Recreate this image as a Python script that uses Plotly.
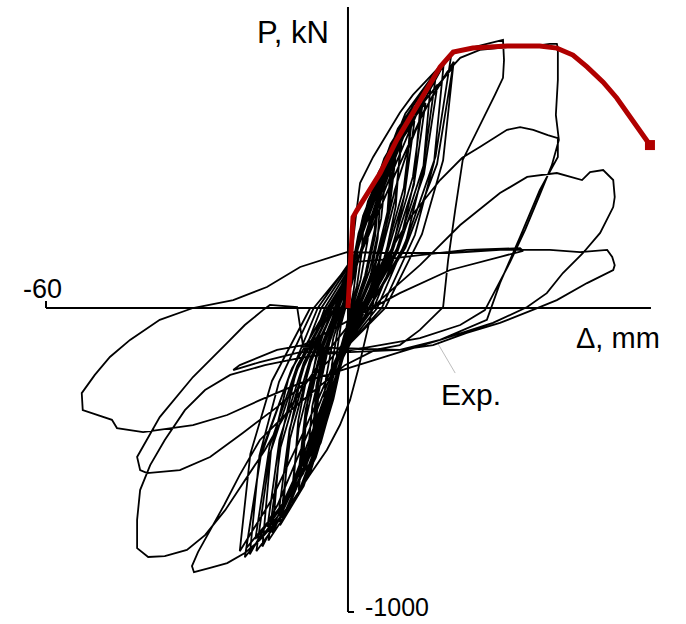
import plotly.graph_objects as go

# ---- measured load-displacement record (displacement in mm, load in kN) ----
# small and medium cycles around the origin
cycle_01 = [(0, 0), (0.1, 44), (0.6, 110), (1.3, 180), (2.0, 220), (1.7, 132), (1.1, 55), (0.4, 0),
            (-0.1, -44), (-0.8, -110), (-1.6, -180), (-2.5, -220), (-2.1, -132), (-1.4, -55), (-0.5, 0)]
cycle_02 = [(0.2, 60), (1.0, 150), (2.1, 246), (3.2, 300), (2.7, 180), (1.8, 75), (0.6, 0),
            (-0.2, -62), (-1.1, -155), (-2.5, -254), (-3.8, -310), (-3.2, -186), (-2.1, -78), (-0.8, 0)]
cycle_03 = [(0.2, 74), (1.4, 185), (3.0, 303), (4.6, 370), (3.9, 222), (2.5, 93), (0.9, 0),
            (-0.3, -78), (-1.6, -195), (-3.4, -320), (-5.2, -390), (-4.4, -234), (-2.9, -98), (-1.0, 0)]
cycle_04 = [(0.3, 86), (1.9, 215), (4.0, 353), (6.2, 430), (5.3, 258), (3.4, 108), (1.2, 0),
            (-0.3, -92), (-2.0, -230), (-4.4, -377), (-6.8, -460), (-5.8, -276), (-3.7, -115), (-1.4, 0)]
cycle_05 = [(0.3, 79), (1.9, 198), (4.1, 324), (6.3, 395), (5.4, 237), (3.5, 99), (1.3, 0),
            (-0.3, -84), (-2.1, -210), (-4.5, -344), (-6.9, -420), (-5.9, -252), (-3.8, -105), (-1.4, 0)]
cycle_06 = [(0.7, 76), (2.6, 190), (4.7, 304), (6.5, 380), (5.9, 228), (4.6, 114), (2.3, 0),
            (-0.7, -86), (-2.8, -215), (-5.0, -344), (-7.0, -430), (-6.3, -258), (-4.9, -129), (-2.5, 0)]
cycle_07 = [(0.4, 98), (2.3, 245), (5.1, 402), (7.8, 490), (6.6, 294), (4.3, 123), (1.6, 0),
            (-0.4, -108), (-2.5, -270), (-5.4, -443), (-8.3, -540), (-7.1, -324), (-4.6, -135), (-1.7, 0)]
cycle_08 = [(0.5, 109), (2.8, 273), (6.1, 447), (9.4, 545), (8.0, 327), (5.2, 136), (1.9, 0),
            (-0.5, -120), (-2.9, -300), (-6.4, -492), (-9.8, -600), (-8.3, -360), (-5.4, -150), (-2.0, 0)]
cycle_09 = [(0.5, 101), (2.9, 253), (6.2, 414), (9.5, 505), (8.1, 303), (5.2, 126), (1.9, 0),
            (-0.5, -111), (-3.0, -278), (-6.4, -455), (-9.9, -555), (-8.4, -333), (-5.4, -139), (-2.0, 0)]
cycle_10 = [(0.9, 94), (3.4, 235), (6.1, 376), (8.5, 470), (7.7, 282), (6.0, 141), (3.0, 0),
            (-0.9, -104), (-3.6, -260), (-6.5, -416), (-9.0, -520), (-8.1, -312), (-6.3, -156), (-3.2, 0)]
cycle_11 = [(0.6, 120), (3.3, 300), (7.2, 492), (11.0, 600), (9.4, 360), (6.1, 150), (2.2, 0),
            (-0.6, -132), (-3.5, -330), (-7.5, -541), (-11.5, -660), (-9.8, -396), (-6.3, -165), (-2.3, 0)]
cycle_12 = [(1.1, 112), (4.2, 280), (7.6, 448), (10.5, 560), (9.5, 336), (7.4, 168), (3.7, 0),
            (-1.1, -124), (-4.4, -310), (-7.9, -496), (-11.0, -620), (-9.9, -372), (-7.7, -186), (-3.9, 0)]
cycle_13 = [(0.7, 132), (3.9, 330), (8.5, 541), (13.0, 660), (11.1, 396), (7.2, 165), (2.6, 0),
            (-0.7, -143), (-4.1, -358), (-8.8, -586), (-13.5, -715), (-11.5, -429), (-7.4, -179), (-2.7, 0)]
cycle_14 = [(0.7, 123), (4.0, 308), (8.6, 504), (13.2, 615), (11.2, 369), (7.3, 154), (2.6, 0),
            (-0.7, -133), (-4.1, -333), (-8.9, -545), (-13.7, -665), (-11.6, -399), (-7.5, -166), (-2.7, 0)]
cycle_15 = [(1.3, 126), (5.0, 315), (9.0, 504), (12.5, 630), (11.3, 378), (8.8, 189), (4.4, 0),
            (-1.3, -138), (-5.2, -345), (-9.4, -552), (-13.0, -690), (-11.7, -414), (-9.1, -207), (-4.6, 0)]
cycle_16 = [(0.8, 144), (4.6, 360), (9.9, 590), (15.2, 720), (12.9, 432), (8.4, 180), (3.0, 0),
            (-0.8, -153), (-4.7, -383), (-10.3, -627), (-15.8, -765), (-13.4, -459), (-8.7, -191), (-3.2, 0)]
cycle_17 = [(0.8, 135), (4.6, 338), (10.0, 554), (15.4, 675), (13.1, 405), (8.5, 169), (3.1, 0),
            (-0.8, -144), (-4.8, -360), (-10.4, -590), (-16.0, -720), (-13.6, -432), (-8.8, -180), (-3.2, 0)]
cycle_18 = [(1.5, 138), (5.8, 345), (10.4, 552), (14.5, 690), (13.1, 414), (10.2, 207), (5.1, 0),
            (-1.5, -148), (-6.0, -370), (-10.8, -592), (-15.0, -740), (-13.5, -444), (-10.5, -222), (-5.3, 0)]
cycle_19 = [(0.9, 156), (5.3, 390), (11.4, 640), (17.6, 780), (15.0, 468), (9.7, 195), (3.5, 0),
            (-0.9, -160), (-5.5, -400), (-11.8, -656), (-18.2, -800), (-15.5, -480), (-10.0, -200), (-3.6, 0)]
cycle_20 = [(0.9, 147), (5.3, 368), (11.6, 603), (17.8, 735), (15.1, 441), (9.8, 184), (3.6, 0),
            (-0.9, -152), (-5.5, -380), (-12.0, -623), (-18.4, -760), (-15.6, -456), (-10.1, -190), (-3.7, 0)]
cycle_21 = [(1.7, 150), (6.6, 375), (11.9, 600), (16.5, 750), (14.9, 450), (11.6, 225), (5.8, 0),
            (-1.7, -157), (-6.8, -393), (-12.2, -628), (-17.0, -785), (-15.3, -471), (-11.9, -236), (-6.0, 0)]
cycle_22 = [(1.0, 166), (6.2, 415), (13.3, 681), (20.5, 830), (17.4, 498), (11.3, 208), (4.1, 0),
            (-1.0, -164), (-6.2, -410), (-13.3, -672), (-20.5, -820), (-17.4, -492), (-11.3, -205), (-4.1, 0)]
cycle_23 = [(1.9, 160), (7.6, 400), (13.7, 640), (19.0, 800), (17.1, 480), (13.3, 240), (6.7, 0),
            (-2.0, -162), (-7.8, -405), (-14.0, -648), (-19.5, -810), (-17.6, -486), (-13.7, -243), (-6.8, 0)]
cycle_24 = [(1.0, 158), (6.2, 395), (13.5, 648), (20.8, 790), (17.7, 474), (11.4, 198), (4.2, 0),
            (-1.0, -158), (-6.1, -395), (-13.1, -648), (-20.2, -790), (-17.2, -474), (-11.1, -198), (-4.0, 0)]
cycle_25 = [(2.1, 162), (8.4, 405), (15.1, 648), (21.0, 810), (18.9, 486), (14.7, 243), (7.4, 0),
            (-2.2, -160), (-8.6, -400), (-15.5, -640), (-21.5, -800), (-19.4, -480), (-15.1, -240), (-7.5, 0)]

# large cycles: +/-30 mm
cycle_26 = [(-4.0, 0), (-0.6, 59), (0.8, 191), (1.6, 306), (2.4, 411), (5.0, 497), (7.6, 569), (10.3, 642),
            (12.9, 701), (15.7, 750), (18.3, 796), (20.3, 826), (21.7, 846), (24.2, 855), (27.8, 869),
            (30.8, 882), (31.0, 816), (30.8, 757), (29.2, 701), (27.2, 635), (25.2, 569), (22.8, 487),
            (21.3, 322), (19.9, 158), (18.9, 3), (14.3, -72), (10.3, -122), (5.4, -138), (-0.6, -188),
            (-6.6, -270), (-12.5, -352), (-17.5, -434), (-21.5, -549), (-24.6, -648), (-27.4, -730),
            (-29.8, -803), (-31.0, -849), (-30.6, -869), (-27.4, -855), (-24.0, -839), (-20.5, -806),
            (-17.5, -763), (-13.9, -697), (-10.9, -632), (-7.6, -549), (-4.2, -467), (-1.6, -385),
            (0.4, -303), (2.0, -204), (3.4, -105), (4.8, -7)]
# +/-42 mm, first cycle
cycle_27 = [(6.0, 125), (7.4, 257), (9.3, 388), (11.9, 520), (14.3, 619), (16.9, 701), (19.7, 776),
            (22.3, 823), (26.2, 849), (32.2, 859), (37.2, 862), (40.1, 869), (41.5, 869), (41.7, 855),
            (41.7, 750), (41.3, 635), (41.9, 553), (40.5, 470), (38.1, 372), (35.2, 257), (32.2, 151),
            (29.2, 59), (27.2, -7), (22.3, -56), (14.3, -99), (6.4, -122), (-1.6, -145), (-9.5, -164),
            (-16.5, -188), (-23.4, -220), (-28.4, -270), (-32.4, -336), (-36.4, -434), (-39.3, -517),
            (-41.3, -599), (-41.9, -697), (-41.9, -790), (-39.7, -819), (-36.4, -816), (-32.0, -796),
            (-28.4, -747), (-24.4, -665), (-20.5, -566), (-16.5, -467), (-12.5, -352), (-8.5, -253),
            (-4.6, -155), (-0.6, -72), (3.4, 26)]
# +/-42 mm, repeated cycle
cycle_28 = [(7.0, 148), (12.3, 296), (18.3, 421), (22.7, 494), (26.2, 530), (31.6, 586), (34.2, 595),
            (36.8, 586), (39.7, 569), (41.7, 559), (41.7, 497), (38.1, 388), (34.2, 234), (30.2, 82),
            (27.6, -39), (18.3, -105), (10.3, -138), (0.4, -132), (-8.9, -128), (-10.1, 3), (-15.5, 10),
            (-16.9, -7), (-20.5, -56), (-24.0, -115), (-30.8, -227), (-37.4, -359), (-41.9, -490),
            (-41.3, -533), (-39.9, -543), (-33.4, -533), (-27.4, -490), (-20.9, -411), (-14.1, -326),
            (-9.5, -260)]
# +/-53 mm cycles
cycle_29 = [(-3.6, -171), (0.4, -89), (6.4, 26), (14.3, 141), (22.3, 273), (30.2, 378), (35.6, 431),
            (41.5, 444), (44.7, 428), (46.5, 421), (48.1, 447), (50.7, 454), (52.7, 421), (53.0, 365),
            (52.7, 332), (50.1, 247), (46.7, 181), (42.7, 115), (39.5, 49), (35.6, 3), (28.8, -49),
            (18.3, -105), (10.3, -145), (0.4, -197), (-9.5, -247), (-17.5, -303), (-24.0, -352),
            (-30.8, -385), (-40.7, -408), (-45.9, -395), (-46.9, -368), (-52.7, -336), (-52.9, -280),
            (-50.3, -220), (-47.3, -161), (-43.3, -105), (-37.4, -39), (-30.8, 0), (-22.8, 26),
            (-16.1, 69), (-9.5, 135), (-0.2, 184)]
cycle_30 = [(-0.2, 184), (10.3, 181), (20.3, 181), (30.2, 191), (40.1, 191), (46.1, 184), (51.5, 191),
            (52.5, 168), (53.0, 141), (52.7, 125), (47.5, 82), (41.5, 26), (38.1, 3), (30.2, -49),
            (23.6, -82), (16.9, -122), (10.3, -138), (0.4, -145), (-9.5, -145), (-17.5, -178),
            (-22.8, -204), (-21.5, -188), (-14.1, -138), (-8.9, -122), (0.4, -39), (10.3, 49),
            (20.3, 125), (30.2, 168), (34.8, 188), (34.2, 197), (28.2, 194), (23.6, 191), (14.3, 174),
            (6.4, 158), (0.4, 151)]

exp_cycles = [cycle_01, cycle_02, cycle_03, cycle_04, cycle_05, cycle_06, cycle_07, cycle_08,
              cycle_09, cycle_10, cycle_11, cycle_12, cycle_13, cycle_14, cycle_15, cycle_16,
              cycle_17, cycle_18, cycle_19, cycle_20, cycle_21, cycle_22, cycle_23, cycle_24,
              cycle_25, cycle_26, cycle_27, cycle_28, cycle_29, cycle_30]

# predicted monotonic response
model_disp = [0, 0.2, 0.6, 1.0, 1.8, 4.4, 6.4, 9.7, 11.7, 14.9, 18.3, 20.9, 24.8, 31.6, 38.1,
              41.5, 44.7, 47.5, 50.7, 53.4, 56.0, 58.6, 60.0]
model_load = [0, 59, 191, 299, 322, 388, 444, 553, 609, 694, 793, 842, 855, 862, 862,
              855, 832, 793, 743, 691, 628, 569, 536]

# axis extents and labels
x_limit = [-60, 60.2]
y_limit = [-1000, 990]
x_tick_label = "-60"
y_tick_label = "-1000"
x_title = "Δ, mm"
y_title = "P, kN"
exp_label = "Exp."

exp_d, exp_p = [], []
for cyc in exp_cycles:
    for d, p in cyc:
        exp_d.append(d)
        exp_p.append(p)

fig = go.Figure()

fig.add_trace(go.Scatter(x=exp_d, y=exp_p, mode="lines",
                         line=dict(color="black", width=1.8),
                         hoverinfo="skip", showlegend=False))
fig.add_trace(go.Scatter(x=model_disp, y=model_load, mode="lines",
                         line=dict(color="#b00000", width=5),
                         hoverinfo="skip", showlegend=False))
fig.add_trace(go.Scatter(x=[model_disp[-1]], y=[model_load[-1]], mode="markers",
                         marker=dict(color="#b00000", symbol="square", size=10),
                         hoverinfo="skip", showlegend=False))

axis_line = dict(color="black", width=2)
shapes = [
    dict(type="line", x0=x_limit[0], y0=0, x1=x_limit[1], y1=0, line=axis_line, layer="below"),
    dict(type="line", x0=x_limit[0], y0=0, x1=x_limit[0], y1=23, line=axis_line, layer="below"),
    dict(type="line", x0=0, y0=y_limit[0], x1=0, y1=y_limit[1], line=axis_line, layer="below"),
    dict(type="line", x0=0, y0=y_limit[0], x1=1.2, y1=y_limit[0], line=axis_line, layer="below"),
    dict(type="line", x0=17.9, y0=-118, x1=21.3, y1=-214,
         line=dict(color="#bdbdbd", width=1), layer="below"),
]

font = "Liberation Sans, Arial, sans-serif"
annotations = [
    dict(x=-60.7, y=62, text=x_tick_label, showarrow=False, xanchor="center", yanchor="middle",
         font=dict(family=font, size=27, color="black")),
    dict(x=3.2, y=-982, text=y_tick_label, showarrow=False, xanchor="left", yanchor="middle",
         font=dict(family=font, size=25, color="black"), borderpad=0),
    dict(x=44.9, y=-99, text=x_title, showarrow=False, xanchor="left", yanchor="middle",
         font=dict(family=font, size=29, color="black")),
    dict(x=-3.4, y=905, text=y_title, showarrow=False, xanchor="right", yanchor="middle",
         font=dict(family=font, size=31, color="black")),
    dict(x=18.1, y=-286, text=exp_label, showarrow=False, xanchor="left", yanchor="middle",
         font=dict(family=font, size=30, color="black")),
]

fig.update_layout(
    width=686, height=624,
    margin=dict(l=0, r=0, t=0, b=0),
    paper_bgcolor="white", plot_bgcolor="white",
    showlegend=False,
    xaxis=dict(range=[-69.14, 67.16], visible=False, fixedrange=True),
    yaxis=dict(range=[-1039.5, 1013.2], visible=False, fixedrange=True),
    shapes=shapes,
    annotations=annotations,
)

fig.write_html("out.html")
